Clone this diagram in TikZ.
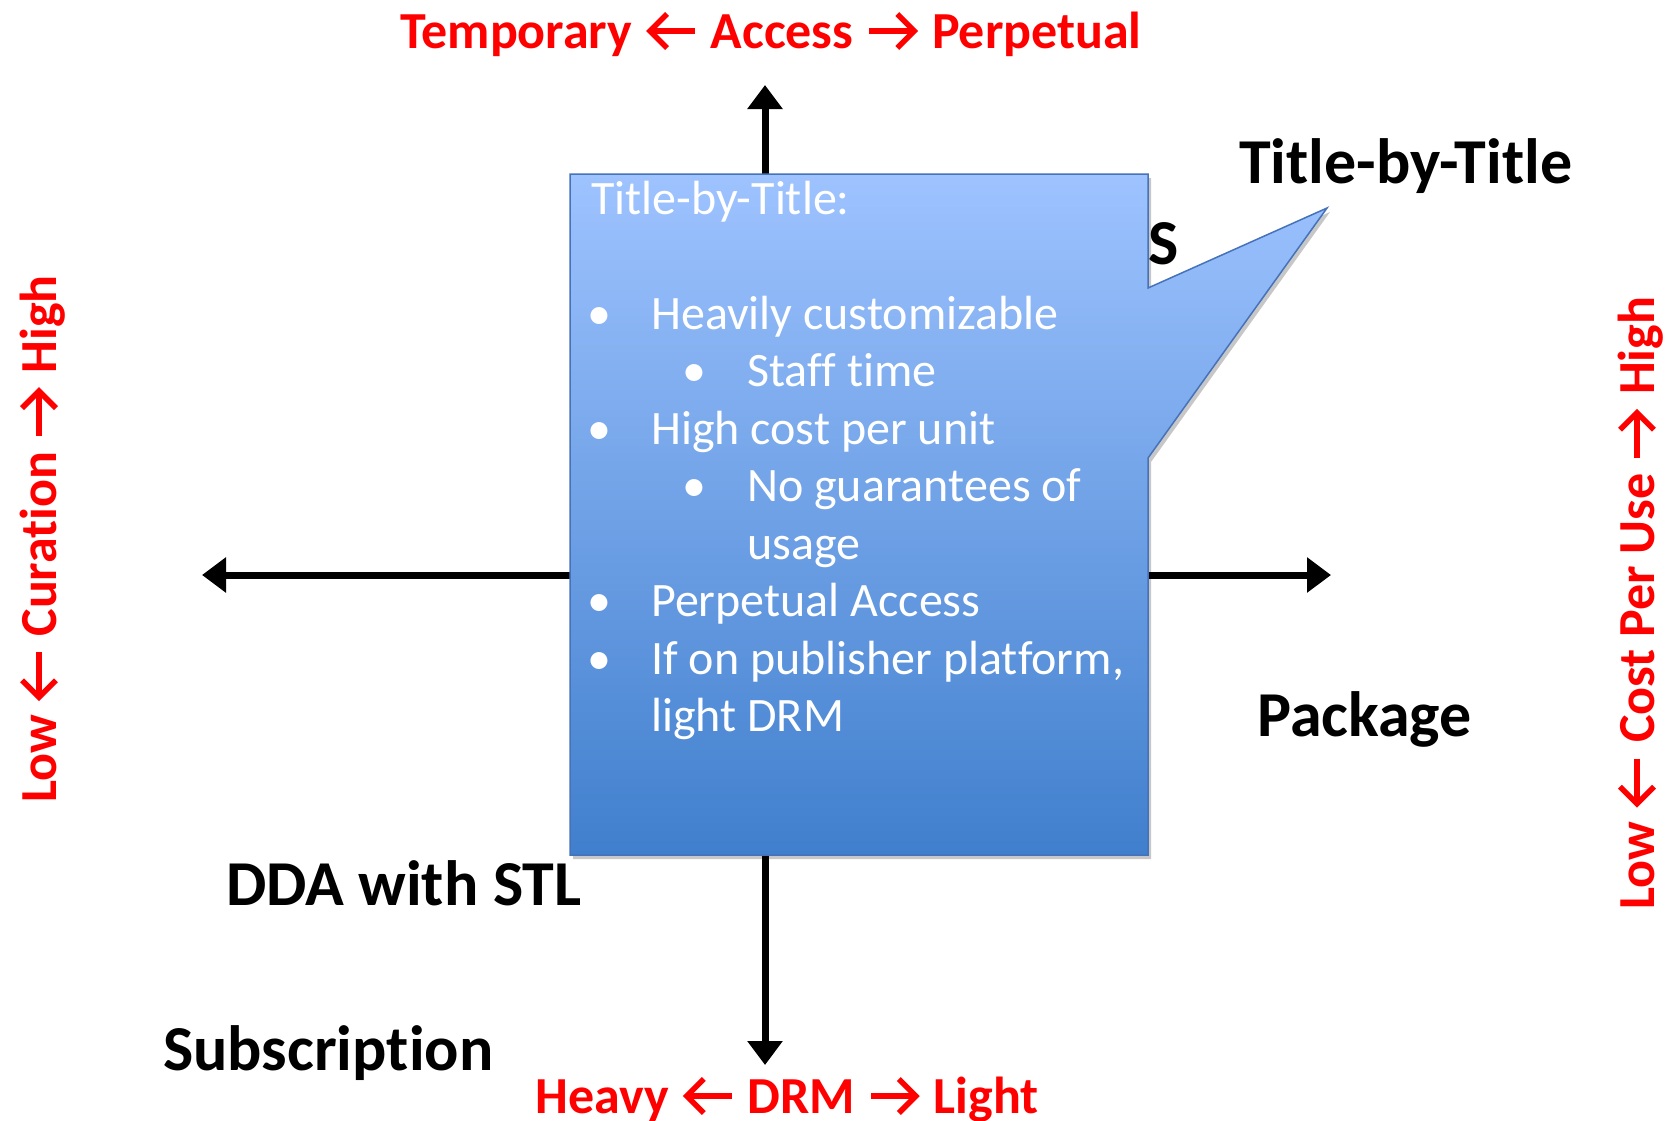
\documentclass[tikz,border=0pt]{standalone}
\usepackage{fontspec}
\setmainfont{Carlito}[Ligatures=NoCommon]
\usetikzlibrary{arrows.meta}

\definecolor{axisred}{RGB}{255,0,0}
\definecolor{boxtop}{RGB}{158,195,255}
\definecolor{boxbot}{RGB}{64,127,205}
\definecolor{boxline}{RGB}{70,114,186}

% open chevron arrows used inside the axis captions (the extra path pads the box)
\newcommand{\arrR}{\tikz[baseline=0pt, x=1pt, y=1pt]{%
  \path (0,0) -- (55,0);
  \draw[axisred, line width=5.5pt, line join=miter] (4,17) -- (48,17);
  \draw[axisred, line width=5.5pt, line join=miter] (32,34) -- (49,17) -- (32,0);}}
\newcommand{\arrL}{\tikz[baseline=0pt, x=1pt, y=1pt]{%
  \path (0,0) -- (55,0);
  \draw[axisred, line width=5.5pt, line join=miter] (51,17) -- (7,17);
  \draw[axisred, line width=5.5pt, line join=miter] (23,34) -- (6,17) -- (23,0);}}

\tikzset{
  redlabel/.style={text=axisred, font=\fontsize{52}{62}\selectfont\bfseries, inner sep=0pt, anchor=base},
  blacklabel/.style={font=\fontsize{64}{76}\selectfont\bfseries, inner sep=0pt, anchor=base west},
  boxtext/.style={text=white, font=\fontsize{48}{57}\selectfont, inner sep=0pt, anchor=base west},
  dot/.style={boxtext, anchor=base},
  axis/.style={line width=7pt, {Triangle[length=24pt,width=34pt]}-{Triangle[length=24pt,width=34pt]}},
}

% outline of the call-out box with its pointer
\def\calloutpath{(570,174) -- (1148,174) -- (1148,288) -- (1327,208) -- (1148,458) -- (1148,855) -- (570,855) -- cycle}

\begin{document}
\begin{tikzpicture}[x=1pt, y=-1pt]
\useasboundingbox (0,0) rectangle (1670,1120);

% axis end points
\coordinate (vtop) at (765,85);
\coordinate (vbot) at (765,1065);
\coordinate (hleft) at (202,575);
\coordinate (hright) at (1331,575);

\draw[axis] (vbot) -- (vtop);
\draw[axis] (hleft) -- (hright);

% axis captions
\node[redlabel] (access) at (771,48) {Temporary \arrL{} Access \arrR{} Perpetual};
\node[redlabel] (drm) at (787,1113) {Heavy \arrL{} DRM \arrR{} Light};
\node[redlabel, rotate=90] (curation) at (56,539) {Low \arrL{} Curation \arrR{} High};
\node[redlabel, rotate=90] (cpu) at (1654,603) {Low \arrL{} Cost Per Use \arrR{} High};

% quadrant labels
\node[blacklabel] (tbt) at (1239,183) {Title-by-Title};
\node[blacklabel] (s) at (1148,264) {S};
\node[blacklabel] (pkg) at (1257,736) {Package};
\node[blacklabel] (dda) at (226,905) {DDA with STL};
\node[blacklabel] (sub) at (163,1070) {Subscription};

% call-out box
\fill[black, opacity=0.22, shift={(3,4)}] \calloutpath;
\shade[top color=boxtop, bottom color=boxbot] \calloutpath;
\draw[boxline, line width=1.5pt] \calloutpath;

\node[boxtext] (title) at (591,214) {Title-by-Title:};

\node[dot] (b1) at (599,329) {•};
\node[boxtext] (t1) at (651,329) {Heavily customizable};
\node[dot] (b2) at (694,386.5) {•};
\node[boxtext] (t2) at (747,386.5) {Staff time};
\node[dot] (b3) at (599,444) {•};
\node[boxtext] (t3) at (651,444) {High cost per unit};
\node[dot] (b4) at (694,501.5) {•};
\node[boxtext] (t4) at (747,501.5) {No guarantees of};
\node[boxtext] (t4b) at (747,559) {usage};
\node[dot] (b5) at (599,616.5) {•};
\node[boxtext] (t5) at (651,616.5) {Perpetual Access};
\node[dot] (b6) at (599,674) {•};
\node[boxtext] (t6) at (651,674) {If on publisher platform,};
\node[boxtext] (t6b) at (651,731.5) {light DRM};
\end{tikzpicture}
\end{document}
